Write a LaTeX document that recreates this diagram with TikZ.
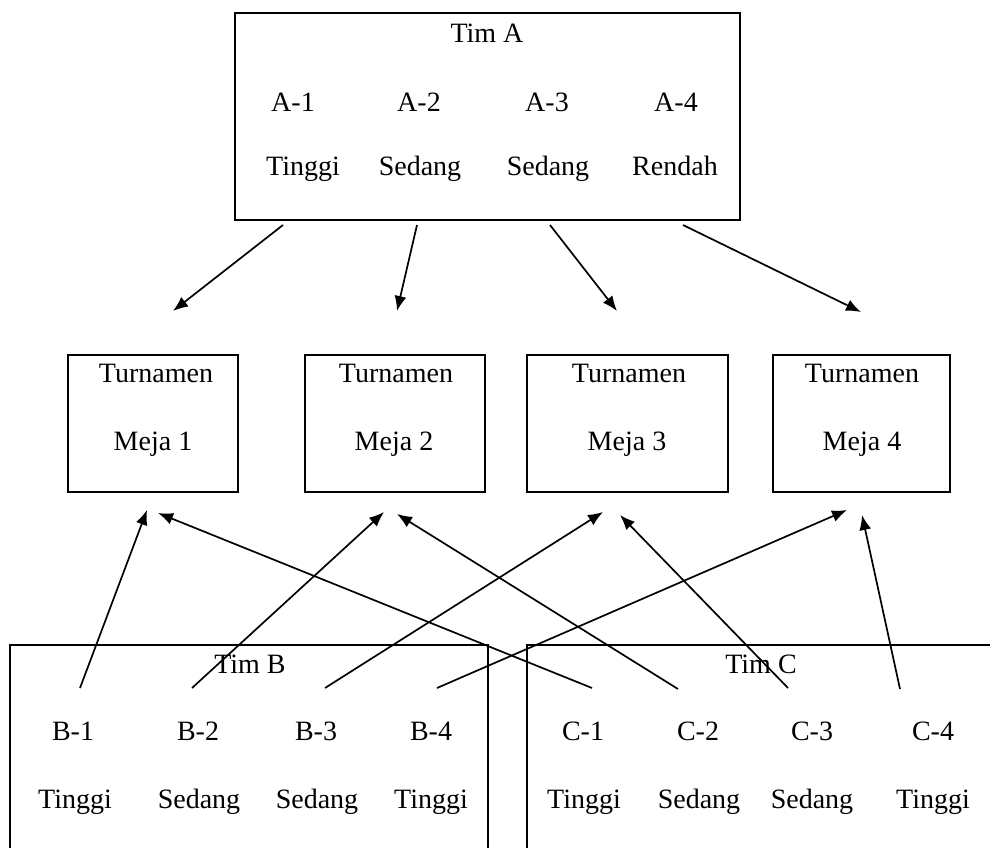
\documentclass[tikz,border=0pt]{standalone}
\usepackage{fontspec}
\setmainfont{Liberation Serif}
\usetikzlibrary{arrows.meta}
\tikzset{
  box/.style={draw, line width=2pt, inner sep=0pt, minimum height=137pt},
  lbl/.style={anchor=base, inner sep=0pt, font=\fontsize{28}{34}\selectfont},
  arr/.style={line width=1.7pt, -{Latex[length=15pt,width=12pt]}}
}
\begin{document}
\begin{tikzpicture}[x=1pt, y=-1pt]
\clip (0,0) rectangle (990,848);
% Tim A
\node[box, minimum width=505pt, minimum height=207pt] (timA) at (487.5,116.5) {};
\node[lbl] (timAt) at (487,43) {Tim A};
\node[lbl] (a1) at (293,112) {A-1};
\node[lbl] (a2) at (419,112) {A-2};
\node[lbl] (a3) at (547,112) {A-3};
\node[lbl] (a4) at (676,112) {A-4};
\node[lbl] (a1l) at (303,175) {Tinggi};
\node[lbl] (a2l) at (420,175) {Sedang};
\node[lbl] (a3l) at (548,175) {Sedang};
\node[lbl] (a4l) at (675,175) {Rendah};
% meja turnamen
\node[box, minimum width=170pt] (meja1) at (153,423.5) {};
\node[box, minimum width=180pt] (meja2) at (395,423.5) {};
\node[box, minimum width=201pt] (meja3) at (627.5,423.5) {};
\node[box, minimum width=177pt] (meja4) at (861.5,423.5) {};
\node[lbl] (t1) at (156,382) {Turnamen};
\node[lbl] (t2) at (396,382) {Turnamen};
\node[lbl] (t3) at (629,382) {Turnamen};
\node[lbl] (t4) at (862,382) {Turnamen};
\node[lbl] (m1) at (153,450) {Meja 1};
\node[lbl] (m2) at (394,450) {Meja 2};
\node[lbl] (m3) at (627,450) {Meja 3};
\node[lbl] (m4) at (862,450) {Meja 4};
% Tim B
\node[box, minimum width=478pt, minimum height=230pt] (timB) at (249,760) {};
\node[lbl] (timBt) at (250,673) {Tim B};
\node[lbl] (b1) at (73,740) {B-1};
\node[lbl] (b2) at (198,740) {B-2};
\node[lbl] (b3) at (316,740) {B-3};
\node[lbl] (b4) at (431,740) {B-4};
\node[lbl] (b1l) at (75,808) {Tinggi};
\node[lbl] (b2l) at (199,808) {Sedang};
\node[lbl] (b3l) at (317,808) {Sedang};
\node[lbl] (b4l) at (431,808) {Tinggi};
% Tim C
\node[box, minimum width=483pt, minimum height=230pt] (timC) at (768.5,760) {};
\node[lbl] (timCt) at (761,673) {Tim C};
\node[lbl] (c1) at (583,740) {C-1};
\node[lbl] (c2) at (698,740) {C-2};
\node[lbl] (c3) at (812,740) {C-3};
\node[lbl] (c4) at (933,740) {C-4};
\node[lbl] (c1l) at (584,808) {Tinggi};
\node[lbl] (c2l) at (699,808) {Sedang};
\node[lbl] (c3l) at (812,808) {Sedang};
\node[lbl] (c4l) at (933,808) {Tinggi};
% ujung panah
\coordinate (a1o) at (283,225);
\coordinate (a2o) at (417,225);
\coordinate (a3o) at (550,225);
\coordinate (a4o) at (683,225);
\coordinate (m1a) at (173,311);
\coordinate (m2a) at (397,311);
\coordinate (m3a) at (617,311);
\coordinate (m4a) at (861,312);
\coordinate (b1o) at (80,688);
\coordinate (b2o) at (192,688);
\coordinate (b3o) at (325,688);
\coordinate (b4o) at (437,688);
\coordinate (c1o) at (592,688);
\coordinate (c2o) at (678,689);
\coordinate (c3o) at (788,688);
\coordinate (c4o) at (900,689);
\coordinate (m1b) at (147,510);
\coordinate (m1c) at (158,513);
\coordinate (m2b) at (384,512);
\coordinate (m2c) at (397,514);
\coordinate (m3b) at (603,512);
\coordinate (m3c) at (620,515);
\coordinate (m4b) at (847,510);
\coordinate (m4c) at (862,515);
\draw[arr] (a1o) -- (m1a);
\draw[arr] (a2o) -- (m2a);
\draw[arr] (a3o) -- (m3a);
\draw[arr] (a4o) -- (m4a);
\draw[arr] (b1o) -- (m1b);
\draw[arr] (b2o) -- (m2b);
\draw[arr] (b3o) -- (m3b);
\draw[arr] (b4o) -- (m4b);
\draw[arr] (c1o) -- (m1c);
\draw[arr] (c2o) -- (m2c);
\draw[arr] (c3o) -- (m3c);
\draw[arr] (c4o) -- (m4c);
\end{tikzpicture}
\end{document}
